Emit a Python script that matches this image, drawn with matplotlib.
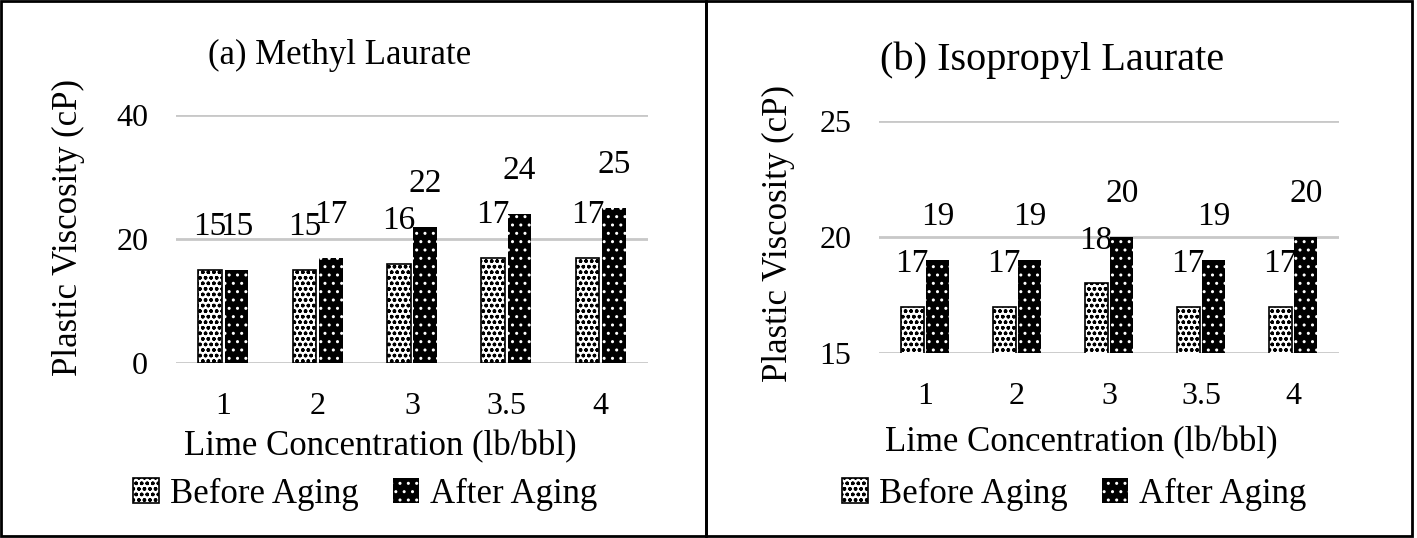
import numpy as np
import matplotlib.pyplot as plt
from matplotlib.patches import Rectangle

# lime concentration (lb/bbl) and plastic viscosity (cP)
categories = ['1', '2', '3', '3.5', '4']
methyl_before = [15, 15, 16, 17, 17]
methyl_after = [15, 17, 22, 24, 25]
iso_before = [17, 17, 18, 17, 17]
iso_after = [19, 19, 20, 19, 20]

plt.rcParams['font.family'] = ['Liberation Serif', 'DejaVu Serif']
plt.rcParams['hatch.color'] = 'white'
plt.rcParams['hatch.linewidth'] = 1.0

W, H = 1417, 538
fig = plt.figure(figsize=(W / 100, H / 100), dpi=100)


def fx(px):
    return px / W


def fy(py):
    return 1 - py / H


def draw_panel(ax, before, after, ylim, yticks):
    x = np.arange(len(categories))
    w = 0.25
    off = 0.14
    b1 = ax.bar(x - off, before, w, color='white', edgecolor='black',
                hatch='ooo', linewidth=1.2, label='Before Aging')
    b2 = ax.bar(x + off, after, w, color='black', hatch='..',
                label='After Aging')
    for rect, v in zip(list(b1) + list(b2), before + after):
        ax.annotate(str(v), (rect.get_x() + rect.get_width() / 2, v),
                    xytext=(0, 31), textcoords='offset points',
                    ha='center', va='center', fontsize=24)
    ax.set_xlim(-0.5, len(categories) - 0.5)
    ax.set_ylim(*ylim)
    ax.set_yticks(yticks)
    ax.set_xticks(x)
    ax.set_xticklabels(categories)
    ax.tick_params(axis='x', length=0, pad=21, labelsize=23)
    ax.tick_params(axis='y', length=0, pad=20, labelsize=23)
    ax.yaxis.grid(True, color='#c8c8c8', linewidth=2)
    ax.set_axisbelow(True)
    for s in ax.spines.values():
        s.set_visible(False)
    return b1, b2


ax1 = fig.add_axes([fx(176), fy(363), 472 / W, 248 / H])
h1 = draw_panel(ax1, methyl_before, methyl_after, (0, 40), [0, 20, 40])
ax1.grid(False, axis='x')

ax2 = fig.add_axes([fx(879), fy(353), 460 / W, 232 / H])
h2 = draw_panel(ax2, iso_before, iso_after, (15, 25), [15, 20, 25])

# titles and axis labels
fig.text(fx(340), fy(55), '(a) Methyl Laurate', ha='center', va='center', fontsize=25)
fig.text(fx(1052), fy(60), '(b) Isopropyl Laurate', ha='center', va='center', fontsize=29)
fig.text(fx(68), fy(228), 'Plastic Viscosity (cP)', rotation=90,
         ha='center', va='center', fontsize=25)
fig.text(fx(778), fy(233), 'Plastic Viscosity (cP)', rotation=90,
         ha='center', va='center', fontsize=25)
fig.text(fx(380), fy(447), 'Lime Concentration (lb/bbl)', ha='center', va='center', fontsize=25)
fig.text(fx(1081), fy(443), 'Lime Concentration (lb/bbl)', ha='center', va='center', fontsize=25)

for handles, cx in [(h1, 365), (h2, 1074)]:
    fig.legend(handles, ['Before Aging', 'After Aging'], loc='center',
               bbox_to_anchor=(fx(cx), fy(494)), ncol=2, frameon=False,
               fontsize=25, handlelength=0.75, handleheight=0.75,
               handletextpad=0.3, columnspacing=1.0)

# panel borders
for x0, x1 in [(1, 706), (706, 1412)]:
    fig.add_artist(Rectangle((fx(x0), fy(536)), (x1 - x0) / W, 535 / H,
                             transform=fig.transFigure, fill=False,
                             edgecolor='black', linewidth=2))

fig.savefig('out.png', dpi=100)
